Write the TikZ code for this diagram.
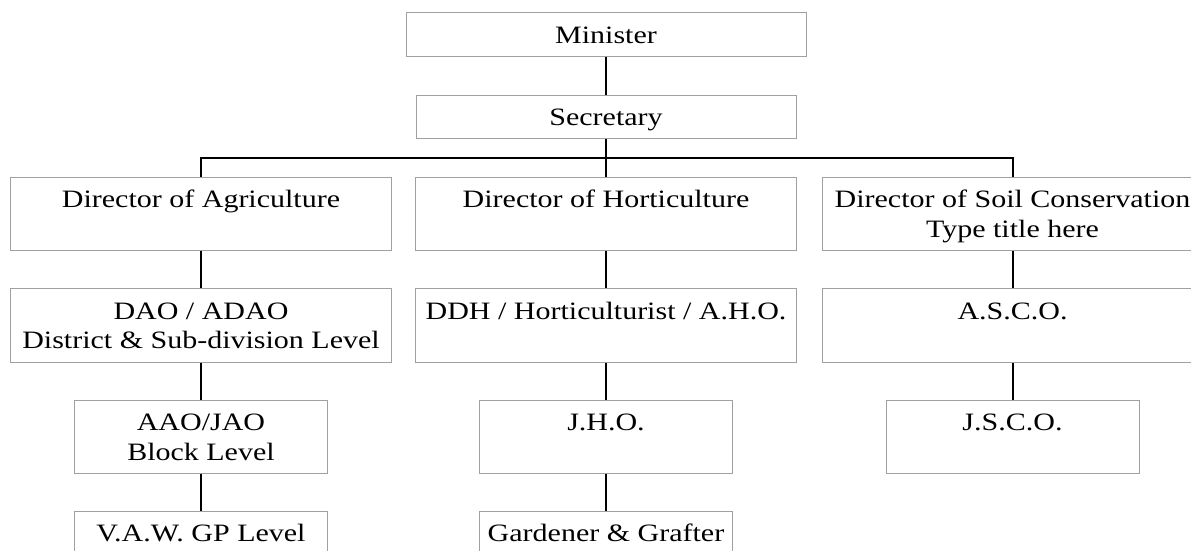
\documentclass[tikz,border=0pt]{standalone}
\usepackage{fontspec}
\setmainfont[FakeStretch=1.2]{Liberation Serif}
\newcommand\mys{\rule[-6pt]{0pt}{29.5pt}}
\definecolor{boxgray}{HTML}{A0A0A0}
\begin{document}
\begin{tikzpicture}[x=1pt,y=-1pt,
  box/.style={draw=boxgray, line width=1pt, inner sep=0pt, align=center,
    font=\fontsize{25}{29.5}\selectfont, minimum width=381pt, minimum height=73pt},
  small/.style={box, minimum width=253pt},
  link/.style={line width=2pt, black}]
\useasboundingbox (0,0) rectangle (1191,551);
\fill[white] (0,0) rectangle (1191,551);
\clip (0,0) rectangle (1191,551);

\node[box, minimum width=400pt, minimum height=44pt] (min) at (606,35) {\mys Minister};
\node[box, minimum width=380pt, minimum height=43pt] (sec) at (606,116.5) {\mys Secretary};

\node[box] (da) at (201,213.5) {\mys Director of Agriculture\\\mys};
\node[box] (dh) at (606,213.5) {\mys Director of Horticulture\\\mys};
\node[box] (ds) at (1012.5,213.5) {\mys Director of Soil Conservation\\\mys Type title here};

\node[box, minimum height=74pt] (dao) at (201,325) {\mys DAO / ADAO\\\mys District \& Sub-division Level};
\node[box, minimum height=74pt] (ddh) at (606,325) {\mys DDH / Horticulturist / A.H.O.\\\mys};
\node[box, minimum height=74pt] (asco) at (1012.5,325) {\mys A.S.C.O.\\\mys};

\node[small] (aao) at (201,436.5) {\mys AAO/JAO\\\mys Block Level};
\node[small] (jho) at (606,436.5) {\mys J.H.O.\\\mys};
\node[small] (jsco) at (1012.5,436.5) {\mys J.S.C.O.\\\mys};

\node[small] (vaw) at (201,547.5) {\mys V.A.W. GP Level\\\mys};
\node[small] (gg) at (606,547.5) {\mys Gardener \& Grafter\\\mys};

\draw[link] (min.south) -- (sec.north);
\draw[link] (sec.south) -- (dh.north);
\draw[link] (da.north) -- ++(0,-19) -| (ds.north);
\draw[link] (da.south) -- (dao.north);
\draw[link] (dh.south) -- (ddh.north);
\draw[link] (ds.south) -- (asco.north);
\draw[link] (dao.south) -- (aao.north);
\draw[link] (ddh.south) -- (jho.north);
\draw[link] (asco.south) -- (jsco.north);
\draw[link] (aao.south) -- (vaw.north);
\draw[link] (jho.south) -- (gg.north);
\end{tikzpicture}
\end{document}
